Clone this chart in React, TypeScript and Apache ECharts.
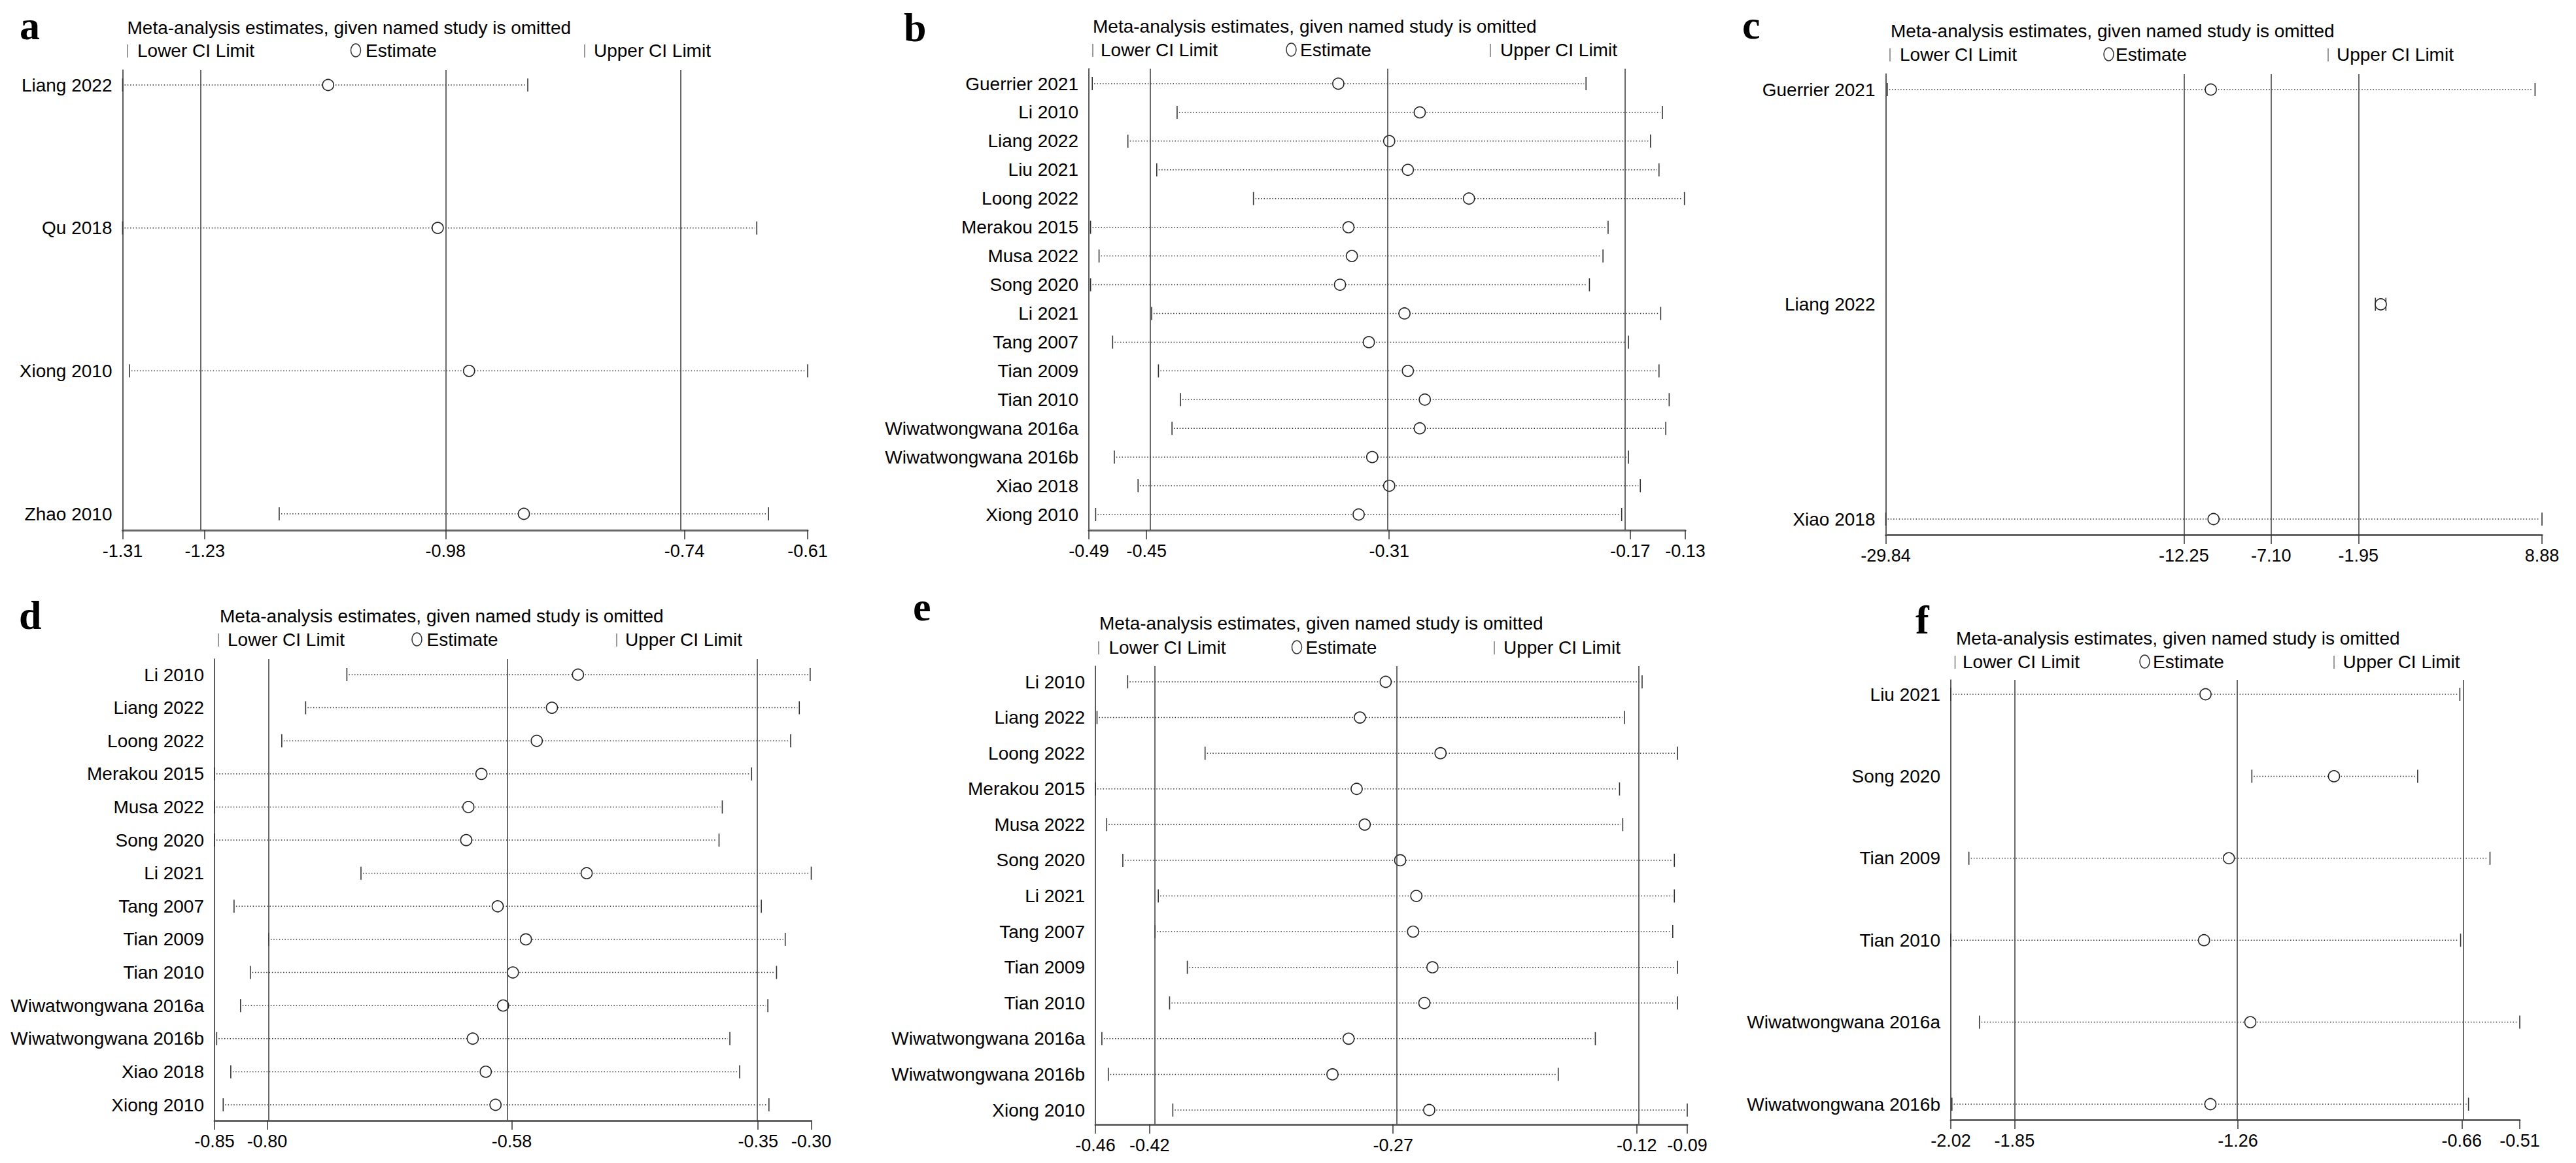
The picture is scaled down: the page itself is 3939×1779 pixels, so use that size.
import React, { useEffect, useRef } from "react";
import * as echarts from "echarts";

// ---------------- Data ----------------
const studiesA = ["Liang 2022", "Qu 2018", "Xiong 2010", "Zhao 2010"];
const lowerA = [-1.31, -1.31, -1.303, -1.15];
const estA = [-1.10, -0.988, -0.956, -0.90];
const upperA = [-0.896, -0.662, -0.61, -0.65];
const ticksA = [-1.31, -1.226, -0.98, -0.736, -0.61];

const studiesB = [
  "Guerrier 2021", "Li 2010", "Liang 2022", "Liu 2021", "Loong 2022", "Merakou 2015",
  "Musa 2022", "Song 2020", "Li 2021", "Tang 2007", "Tian 2009", "Tian 2010",
  "Wiwatwongwana 2016a", "Wiwatwongwana 2016b", "Xiao 2018", "Xiong 2010",
];
const lowerB = [-0.484, -0.434, -0.463, -0.446, -0.389, -0.485, -0.48, -0.485, -0.449, -0.472, -0.445, -0.432, -0.437, -0.471, -0.457, -0.482];
const estB = [-0.339, -0.291, -0.309, -0.298, -0.262, -0.333, -0.331, -0.338, -0.3, -0.321, -0.298, -0.288, -0.291, -0.319, -0.309, -0.327];
const upperB = [-0.193, -0.148, -0.155, -0.15, -0.135, -0.18, -0.183, -0.191, -0.149, -0.168, -0.15, -0.144, -0.146, -0.168, -0.161, -0.172];
const ticksB = [-0.486, -0.452, -0.309, -0.167, -0.1345];

const studiesC = ["Guerrier 2021", "Liang 2022", "Xiao 2018"];
const lowerC = [-29.75, -0.95, -29.84];
const estC = [-10.66, -0.63, -10.5];
const upperC = [8.47, -0.33, 8.88];
const ticksC = [-29.84, -12.25, -7.1, -1.95, 8.88];

const studiesD = [
  "Li 2010", "Liang 2022", "Loong 2022", "Merakou 2015", "Musa 2022", "Song 2020", "Li 2021",
  "Tang 2007", "Tian 2009", "Tian 2010", "Wiwatwongwana 2016a", "Wiwatwongwana 2016b", "Xiao 2018", "Xiong 2010",
];
const lowerD = [-0.728, -0.766, -0.788, -0.85, -0.85, -0.85, -0.715, -0.832, -0.8, -0.817, -0.826, -0.848, -0.835, -0.842];
const estD = [-0.515, -0.539, -0.553, -0.604, -0.616, -0.618, -0.507, -0.589, -0.563, -0.575, -0.584, -0.612, -0.6, -0.591];
const upperD = [-0.301, -0.311, -0.319, -0.355, -0.382, -0.385, -0.3, -0.346, -0.324, -0.332, -0.34, -0.375, -0.366, -0.339];
const ticksD = [-0.85, -0.8015, -0.576, -0.349, -0.3];

const studiesE = [
  "Li 2010", "Liang 2022", "Loong 2022", "Merakou 2015", "Musa 2022", "Song 2020", "Li 2021",
  "Tang 2007", "Tian 2009", "Tian 2010", "Wiwatwongwana 2016a", "Wiwatwongwana 2016b", "Xiong 2010",
];
const lowerE = [-0.437, -0.456, -0.389, -0.457, -0.45, -0.44, -0.418, -0.42, -0.4, -0.411, -0.453, -0.449, -0.409];
const estE = [-0.277, -0.293, -0.243, -0.295, -0.29, -0.268, -0.258, -0.26, -0.248, -0.253, -0.3, -0.31, -0.25];
const upperE = [-0.118, -0.129, -0.096, -0.132, -0.13, -0.098, -0.098, -0.099, -0.096, -0.096, -0.147, -0.17, -0.09];
const ticksE = [-0.457, -0.4234, -0.2724, -0.1213, -0.09];

const studiesF = ["Liu 2021", "Song 2020", "Tian 2009", "Tian 2010", "Wiwatwongwana 2016a", "Wiwatwongwana 2016b"];
const lowerF = [-2.02, -1.221, -1.972, -2.02, -1.944, -2.017];
const estF = [-1.344, -1.003, -1.282, -1.348, -1.225, -1.331];
const upperF = [-0.669, -0.781, -0.589, -0.667, -0.51, -0.646];
const ticksF = [-2.02, -1.851, -1.258, -0.664, -0.51];

const TITLE = "Meta-analysis estimates, given named study is omitted";

// ---------------- Layout ----------------
const panels = [
  { letter: "a", letterPos: [30, 60], studies: studiesA, lower: lowerA, est: estA, upper: upperA, ticks: ticksA,
    grid: { left: 187.5, top: 107, width: 1047.5, height: 704 }, firstRow: 130, lastRow: 786,
    title: [194.5, 52], legendY: 87, legendX: [195, 210, 544, 559, 894, 908] },
  { letter: "b", letterPos: [1382, 63], studies: studiesB, lower: lowerB, est: estB, upper: upperB, ticks: ticksB,
    grid: { left: 1665, top: 105, width: 912, height: 706 }, firstRow: 128, lastRow: 787,
    title: [1671, 50], legendY: 86, legendX: [1671, 1683, 1974.5, 1988, 2279, 2294] },
  { letter: "c", letterPos: [2664, 59], studies: studiesC, lower: lowerC, est: estC, upper: upperC, ticks: ticksC,
    grid: { left: 2883.5, top: 113, width: 1003.5, height: 705 }, firstRow: 137, lastRow: 794,
    title: [2891, 57], legendY: 93, legendX: [2890, 2905, 3224.5, 3235, 3560, 3573] },
  { letter: "d", letterPos: [29, 962], studies: studiesD, lower: lowerD, est: estD, upper: upperD, ticks: ticksD,
    grid: { left: 328, top: 1008, width: 912.5, height: 706 }, firstRow: 1032, lastRow: 1690,
    title: [336, 952], legendY: 988, legendX: [334, 348, 637.5, 652.6, 943, 956] },
  { letter: "e", letterPos: [1396, 949], studies: studiesE, lower: lowerE, est: estE, upper: upperE, ticks: ticksE,
    grid: { left: 1675, top: 1019, width: 905, height: 701 }, firstRow: 1043, lastRow: 1698,
    title: [1681, 963], legendY: 1000, legendX: [1680, 1695.5, 1983, 1996.5, 2285, 2299] },
  { letter: "f", letterPos: [2929, 969], studies: studiesF, lower: lowerF, est: estF, upper: upperF, ticks: ticksF,
    grid: { left: 2983, top: 1040, width: 870, height: 673 }, firstRow: 1062, lastRow: 1689,
    title: [2991, 986], legendY: 1022, legendX: [2989.5, 3001, 3279.5, 3292, 3569, 3582.6] },
];

const FONT = '"Liberation Sans", Arial, Helvetica, sans-serif';
const FS = 28;
const LETTER_SIZE = 62;

function textEl(text: string, x: number, baseline: number, size = FS, family = FONT, weight: any = "normal") {
  return {
    type: "text",
    x,
    y: baseline - size * 0.34,
    silent: true,
    style: {
      text,
      fill: "#000",
      fontSize: size,
      fontFamily: family,
      fontWeight: weight,
      lineHeight: size,
      textAlign: "left",
      align: "left",
      textVerticalAlign: "middle",
      verticalAlign: "middle",
    },
  };
}

function renderItem(params: any, api: any) {
  const y = api.value(3);
  const l = api.coord([api.value(0), y]);
  const e = api.coord([api.value(1), y]);
  const u = api.coord([api.value(2), y]);
  const cap = 10;
  return {
    type: "group",
    children: [
      { type: "line", shape: { x1: l[0] + 3, y1: l[1], x2: u[0] - 3, y2: u[1] },
        style: { stroke: "#333", lineWidth: 1.5, lineDash: [1.5, 2.8] } },
      { type: "line", shape: { x1: l[0], y1: l[1] - cap, x2: l[0], y2: l[1] + cap },
        style: { stroke: "#333", lineWidth: 1.6 } },
      { type: "line", shape: { x1: u[0], y1: u[1] - cap, x2: u[0], y2: u[1] + cap },
        style: { stroke: "#333", lineWidth: 1.6 } },
      { type: "circle", shape: { cx: e[0], cy: e[1], r: 8.5 },
        style: { fill: "#fff", stroke: "#222", lineWidth: 1.6 } },
    ],
  };
}

function buildOption() {
  const grid: any[] = [];
  const xAxis: any[] = [];
  const yAxis: any[] = [];
  const series: any[] = [];
  const graphic: any[] = [];

  panels.forEach((p, i) => {
    const n = p.studies.length;
    const sp = (p.lastRow - p.firstRow) / (n - 1);
    const yMin = -(p.firstRow - p.grid.top) / sp;
    const yMax = n - 1 + (p.grid.top + p.grid.height - p.lastRow) / sp;
    grid.push({ left: p.grid.left, top: p.grid.top, width: p.grid.width, height: p.grid.height });
    xAxis.push({
      type: "value",
      gridIndex: i,
      min: p.ticks[0],
      max: p.ticks[p.ticks.length - 1],
      splitLine: { show: false },
      axisLine: { show: true, onZero: false, lineStyle: { color: "#666", width: 3 } },
      axisTick: { show: true, customValues: p.ticks, length: 14, lineStyle: { color: "#333", width: 1.5 } },
      axisLabel: {
        customValues: p.ticks,
        formatter: (v: number) => v.toFixed(2),
        margin: 18,
        color: "#000",
        fontSize: 27,
        fontFamily: FONT,
      },
    });
    yAxis.push({
      type: "value",
      gridIndex: i,
      inverse: true,
      min: yMin,
      max: yMax,
      splitLine: { show: false },
      axisTick: { show: false },
      axisLine: { show: true, onZero: false, lineStyle: { color: "#333", width: 1.6 } },
      axisLabel: {
        customValues: p.studies.map((_, k) => k),
        formatter: (v: number) => p.studies[Math.round(v)] ?? "",
        margin: 16,
        color: "#000",
        fontSize: FS,
        fontFamily: FONT,
      },
    });
    series.push({
      type: "custom",
      xAxisIndex: i,
      yAxisIndex: i,
      clip: false,
      renderItem,
      encode: { x: [0, 1, 2], y: 3 },
      data: p.studies.map((_, k) => [p.lower[k], p.est[k], p.upper[k], k]),
      markLine: {
        silent: true,
        symbol: "none",
        label: { show: false },
        lineStyle: { type: "solid", color: "#444", width: 1.6 },
        data: p.ticks.slice(1, p.ticks.length - 1).map((v) => ({ xAxis: v })),
      },
    });

    // panel letter
    graphic.push(textEl(p.letter, p.letterPos[0], p.letterPos[1], LETTER_SIZE, '"Liberation Serif", "Times New Roman", serif', "bold"));
    // title
    graphic.push(textEl(TITLE, p.title[0], p.title[1]));
    // legend
    const ly = p.legendY;
    const [lb, lt, ec, et, ub, ut] = p.legendX;
    graphic.push({ type: "line", silent: true, shape: { x1: lb, y1: ly - 19, x2: lb, y2: ly + 1 }, style: { stroke: "#777", lineWidth: 1.5 } });
    graphic.push(textEl("Lower CI Limit", lt, ly));
    graphic.push({ type: "ellipse", silent: true, shape: { cx: ec, cy: ly - 10, rx: 7.5, ry: 10 }, style: { fill: "none", stroke: "#333", lineWidth: 1.5 } });
    graphic.push(textEl("Estimate", et, ly));
    graphic.push({ type: "line", silent: true, shape: { x1: ub, y1: ly - 19, x2: ub, y2: ly + 1 }, style: { stroke: "#777", lineWidth: 1.5 } });
    graphic.push(textEl("Upper CI Limit", ut, ly));
  });

  return {
    animation: false,
    backgroundColor: "#fff",
    grid,
    xAxis,
    yAxis,
    series,
    graphic: { elements: graphic },
  };
}

export default function App() {
  const ref = useRef<HTMLDivElement>(null);
  useEffect(() => {
    document.body.style.margin = "0";
    if (!ref.current) return;
    const chart = echarts.init(ref.current, undefined, { renderer: "svg" });
    chart.setOption(buildOption() as any);
    return () => chart.dispose();
  }, []);
  return (
    <div
      ref={ref}
      style={{ position: "fixed", left: 0, top: 0, width: 3939, height: 1779, background: "#fff" }}
    />
  );
}
